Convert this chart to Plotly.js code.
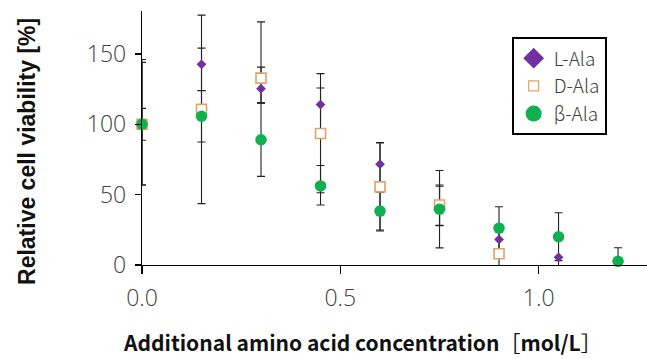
<!DOCTYPE html>
<html>
<head>
<meta charset="utf-8">
<script src="https://cdn.plot.ly/plotly-3.0.1.min.js"></script>
<style>html,body{margin:0;padding:0;background:#fff;}#chart{width:647px;height:359px;}</style>
</head>
<body>
<div id="chart"></div>
<script>
// concentration [mol/L]
var conc = [0, 0.15, 0.3, 0.45, 0.6, 0.75, 0.9, 1.05, 1.2];

// L-Ala
var lAla      = [100, 142.6, 125.3, 114, 71.6, 42, 18.2, 5.5, null];
var lAlaPlus  = [44, 11.5, 15.3, 22, 15.5, 14, 8, 0, null];
var lAlaMinus = [43, 18.7, 10, 22, 15.5, 14, 8, 8, null];

// D-Ala
var dAla      = [100, 110.6, 132.8, 93.4, 55.5, 42.6, 8, null, null];
var dAlaPlus  = [46, 67, 40, 32.4, 31.3, 14.3, 3, null, null];
var dAlaMinus = [43.3, 67, 17.6, 42.1, 31.3, 14.3, 10, null, null];

// beta-Ala
var bAla      = [100, 105.7, 89, 56.2, 38.3, 39.7, 26.2, 20.1, 2.6];
var bAlaPlus  = [11.3, 18.3, 26, 14.5, 13.4, 27.5, 15.2, 17, 9.7];
var bAlaMinus = [11.3, 18.3, 26, 13.6, 13.4, 27.5, 15.2, 17, 5];

var yTicks = [0, 50, 100, 150];
var xTicks = [0, 0.5, 1.0];
var xTickText = ['0.0', '0.5', '1.0'];

var names = ['L-Ala', 'D-Ala', 'β-Ala'];
var ys = [lAla, dAla, bAla];
var plus = [lAlaPlus, dAlaPlus, bAlaPlus];
var minus = [lAlaMinus, dAlaMinus, bAlaMinus];

var purple = '#7030A0', orange = '#E0A366', green = '#0FB050';
var markers = [
  {symbol: 'diamond', size: 7.5, color: purple, line: {width: 0}},
  {symbol: 'square', size: 10, color: '#ffffff', line: {width: 1.6, color: orange}},
  {symbol: 'circle', size: 11.5, color: green, line: {width: 0}}
];
var legendMarkers = [
  {symbol: 'diamond', size: 16, color: purple, line: {width: 0}},
  {symbol: 'square', size: 10, color: '#ffffff', line: {width: 1.2, color: orange}},
  {symbol: 'circle', size: 16, color: green, line: {width: 0}}
];

var traces = [];
// error bars (clipped at the plot area)
for (var i = 0; i < 3; i++) {
  traces.push({
    x: conc, y: ys[i], type: 'scatter', mode: 'markers',
    marker: {size: 1, opacity: 0},
    error_y: {type: 'data', symmetric: false, array: plus[i], arrayminus: minus[i],
              color: '#222222', thickness: 1.1, width: 4},
    cliponaxis: true, showlegend: false, hoverinfo: 'skip'
  });
}
// markers
for (var i = 0; i < 3; i++) {
  traces.push({
    x: conc, y: ys[i], type: 'scatter', mode: 'markers',
    marker: markers[i], cliponaxis: false, showlegend: false, name: names[i]
  });
}
// legend entries
for (var i = 0; i < 3; i++) {
  traces.push({
    x: [null], y: [null], type: 'scatter', mode: 'markers',
    marker: legendMarkers[i], name: names[i], showlegend: true
  });
}

var tickFont = {family: 'Open Sans, Noto Sans, sans-serif', size: 23, color: '#404040', weight: 300};

var layout = {
  width: 647, height: 359,
  margin: {l: 142, r: 0, t: 11, b: 94},
  paper_bgcolor: '#ffffff', plot_bgcolor: '#ffffff',
  showlegend: true,
  legend: {
    x: 0.732, y: 0.8965, xanchor: 'left', yanchor: 'top',
    bordercolor: '#000000', borderwidth: 2, bgcolor: '#ffffff',
    font: {family: 'Noto Sans CJK JP, Noto Sans, sans-serif', size: 19, color: '#404040', weight: 300},
    tracegroupgap: 0
  },
  xaxis: {
    range: [0, 1.273], tickvals: xTicks, ticktext: xTickText,
    showline: true, linecolor: '#000000', linewidth: 1.2,
    ticks: 'outside', ticklen: 8, tickcolor: '#000000', tickwidth: 1.2,
    showgrid: false, zeroline: false, tickfont: tickFont, ticklabelstandoff: 4
  },
  yaxis: {
    range: [0, 180.5], tickvals: yTicks,
    showline: true, linecolor: '#000000', linewidth: 1.2,
    ticks: 'outside', ticklen: 6, tickcolor: '#000000', tickwidth: 1.2,
    showgrid: false, zeroline: false, tickfont: tickFont, ticklabelstandoff: 4
  },
  annotations: [
    {text: 'Relative cell viability [%]', xref: 'paper', yref: 'paper',
     x: -0.2277, y: 0.445, xanchor: 'center', yanchor: 'middle', textangle: -90,
     showarrow: false, font: {family: 'Liberation Sans, Arial, sans-serif', size: 23, color: '#111111', weight: 'bold'}},
    {text: 'Additional amino acid concentration<span style="font-weight:normal">［</span>mol/L<span style="font-weight:normal">］</span>', xref: 'paper', yref: 'paper',
     x: 0.437, y: -0.303, xanchor: 'center', yanchor: 'middle',
     showarrow: false, font: {family: 'Noto Sans CJK JP, sans-serif', size: 21, color: '#111111', weight: 'bold'}}
  ]
};

Plotly.newPlot('chart', traces, layout, {displayModeBar: false, staticPlot: true});
</script>
</body>
</html>
